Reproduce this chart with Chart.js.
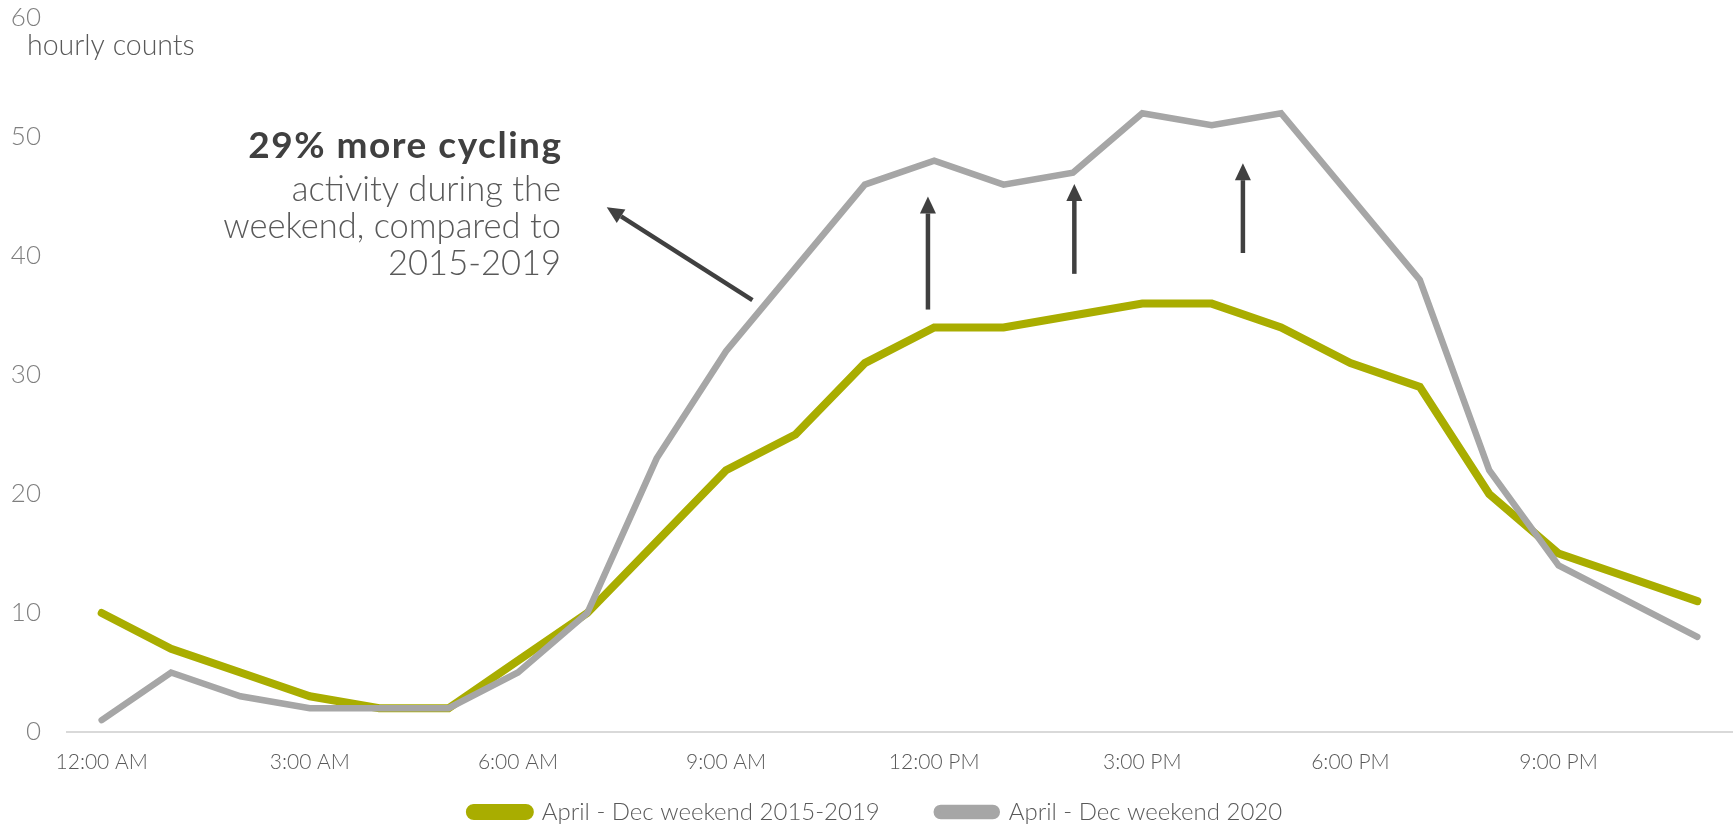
<!DOCTYPE html>
<html>
<head>
<meta charset="utf-8">
<title>Weekend cycling counts</title>
<script src="https://cdn.jsdelivr.net/npm/chart.js@4.4.0/dist/chart.umd.min.js"></script>
<style>
  html, body { margin: 0; padding: 0; background: #fff; }
  #wrap { width: 1736px; height: 825px; position: relative; }
</style>
</head>
<body>
<div id="wrap"><canvas id="chart"></canvas></div>
<script>
// one point per hour of the day
const hours = [
  '12:00 AM', '1:00 AM', '2:00 AM', '3:00 AM', '4:00 AM', '5:00 AM',
  '6:00 AM', '7:00 AM', '8:00 AM', '9:00 AM', '10:00 AM', '11:00 AM',
  '12:00 PM', '1:00 PM', '2:00 PM', '3:00 PM', '4:00 PM', '5:00 PM',
  '6:00 PM', '7:00 PM', '8:00 PM', '9:00 PM', '10:00 PM', '11:00 PM'
];
const weekend2015to2019 = [10, 7, 5, 3, 2, 2, 6, 10, 16, 22, 25, 31, 34, 34, 35, 36, 36, 34, 31, 29, 20, 15, 13, 11];
const weekend2020 = [1, 5, 3, 2, 2, 2, 5, 10, 23, 32, 39, 46, 48, 46, 47, 52, 51, 52, 45, 38, 22, 14, 11, 8];
const seriesNames = ['April - Dec weekend 2015-2019', 'April - Dec weekend 2020'];

const yMin = 0;
const yMax = 60;
const yStep = 10;

// callout text, anchored (right edge, first baseline) in data units
const calloutTitle = '29% more cycling';
const calloutLines = ['activity during the', 'weekend, compared to', '2015-2019'];
const calloutAnchor = { x: 6.62, y: 48.2 };

// arrows in data units: x = hour index, y = count
const upArrows = [
  { x: 11.91, from: 35.5, to: 45.0 },
  { x: 14.02, from: 38.5, to: 46.05 },
  { x: 16.45, from: 40.25, to: 47.8 }
];
const calloutArrow = { x0: 9.38, y0: 36.3, x1: 7.28, y1: 44.1 };

const GREEN = '#a9ad00';
const GREY = '#a6a6a6';
const DARK = '#404040';
const LEGEND_HEIGHT = 40;

function drawArrow(ctx, x0, y0, x1, y1) {
  const ang = Math.atan2(y1 - y0, x1 - x0);
  const headLen = 17;
  const headHalf = 8;
  const bx = x1 - Math.cos(ang) * headLen;
  const by = y1 - Math.sin(ang) * headLen;
  ctx.beginPath();
  ctx.moveTo(x0, y0);
  ctx.lineTo(bx, by);
  ctx.lineWidth = 4.5;
  ctx.strokeStyle = DARK;
  ctx.stroke();
  ctx.beginPath();
  ctx.moveTo(x1, y1);
  ctx.lineTo(bx + Math.sin(ang) * headHalf, by - Math.cos(ang) * headHalf);
  ctx.lineTo(bx - Math.sin(ang) * headHalf, by + Math.cos(ang) * headHalf);
  ctx.closePath();
  ctx.fillStyle = DARK;
  ctx.fill();
}

// axis caption, callout with its arrows, and legend placement
const notesPlugin = {
  id: 'notes',
  beforeLayout(chart) {
    // the wide item padding would otherwise make the legend box very tall
    const legend = chart.legend;
    if (legend && !legend._fixedFit) {
      const fit = legend.fit;
      legend.fit = function () {
        fit.call(this);
        this.height = LEGEND_HEIGHT;
      };
      legend._fixedFit = true;
    }
  },
  afterLayout(chart) {
    // the row is drawn at top + padding, so raise the top edge by that much
    // (bottom stays put, the legend clips to its own box)
    const legend = chart.legend;
    legend.top += 15 - legend.options.labels.padding;
    legend.left += 10;
    legend.right += 10;
  },
  afterDatasetsDraw(chart) {
    const { ctx } = chart;
    const xs = chart.scales.x;
    const ys = chart.scales.y;
    ctx.save();

    ctx.fillStyle = '#595959';
    ctx.font = '300 28.5px Lato';
    ctx.textAlign = 'left';
    ctx.textBaseline = 'alphabetic';
    ctx.fillText('hourly counts', 27, 55);

    const ax = xs.getPixelForValue(calloutAnchor.x);
    let ay = ys.getPixelForValue(calloutAnchor.y);
    ctx.textAlign = 'right';
    ctx.fillStyle = DARK;
    ctx.font = 'bold 37px Lato';
    ctx.letterSpacing = '1.5px';
    ctx.fillText(calloutTitle, ax + 1.5, ay);
    ctx.letterSpacing = '0px';
    ctx.fillStyle = '#595959';
    ctx.font = '300 34.5px Lato';
    ay += 43;
    calloutLines.forEach((line) => {
      ctx.fillText(line, ax, ay);
      ay += 37;
    });

    upArrows.forEach((a) => {
      const px = xs.getPixelForValue(a.x);
      drawArrow(ctx, px, ys.getPixelForValue(a.from), px, ys.getPixelForValue(a.to));
    });
    drawArrow(ctx,
      xs.getPixelForValue(calloutArrow.x0), ys.getPixelForValue(calloutArrow.y0),
      xs.getPixelForValue(calloutArrow.x1), ys.getPixelForValue(calloutArrow.y1));
    ctx.restore();
  }
};

new Chart(document.getElementById('chart'), {
  type: 'line',
  data: {
    labels: hours,
    datasets: [{
      label: seriesNames[0],
      data: weekend2015to2019,
      borderColor: GREEN,
      backgroundColor: GREEN,
      borderWidth: 8,
      order: 2
    }, {
      label: seriesNames[1],
      data: weekend2020,
      borderColor: GREY,
      backgroundColor: GREY,
      borderWidth: 6.5,
      order: 1
    }]
  },
  options: {
    responsive: true,
    maintainAspectRatio: false,
    animation: false,
    elements: {
      point: { radius: 0, hoverRadius: 0 },
      line: { tension: 0, borderCapStyle: 'round', borderJoinStyle: 'miter' }
    },
    layout: { padding: { left: 0, right: 4, top: 18, bottom: 0 } },
    scales: {
      x: {
        offset: true,
        grid: { display: false, drawTicks: false },
        border: { display: true, color: '#d9d9d9', width: 2 },
        ticks: {
          autoSkip: false,
          maxRotation: 0,
          padding: 18,
          color: '#595959',
          font: { family: 'Lato', size: 21, weight: '300' },
          callback: (v, i) => (i % 3 === 0 ? hours[i] : '')
        },
        afterFit: (scale) => {
          scale.height = 825 - 732 - LEGEND_HEIGHT;
          scale.paddingLeft = 0;
          scale.paddingRight = 0;
        }
      },
      y: {
        min: yMin,
        max: yMax,
        grid: { display: false, drawTicks: false },
        border: { display: false },
        ticks: {
          stepSize: yStep,
          padding: 26,
          color: '#7f7f7f',
          font: { family: 'Lato', size: 26, weight: '300' }
        },
        afterFit: (scale) => {
          scale.width = 67;
          scale.paddingTop = 0;
          scale.paddingBottom = 0;
        }
      }
    },
    plugins: {
      legend: {
        position: 'bottom',
        labels: {
          boxWidth: 60,
          boxHeight: 8,
          useBorderRadius: true,
          borderRadius: 4,
          padding: 57,
          color: '#595959',
          font: { family: 'Lato', size: 24, weight: '300' },
          sort: (a, b) => a.datasetIndex - b.datasetIndex
        }
      },
      tooltip: { enabled: false }
    }
  },
  plugins: [notesPlugin]
});
</script>
</body>
</html>
